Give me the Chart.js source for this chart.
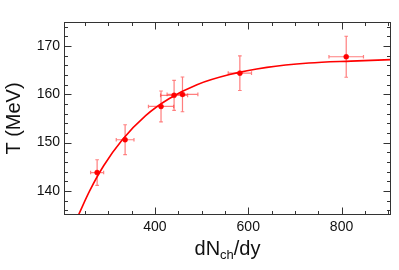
<!DOCTYPE html>
<html>
<head>
<meta charset="utf-8">
<script src="https://cdn.jsdelivr.net/npm/chart.js@4/dist/chart.umd.min.js"></script>
<style>
  html, body { margin: 0; padding: 0; background: #fff; }
  canvas { display: block; }
</style>
</head>
<body>
<canvas id="c" width="399" height="270"></canvas>
<script>
// ---- data ----
const dNch   = [276, 336, 413, 441, 459, 582, 810];
const Tvals  = [143.8, 150.6, 157.5, 159.8, 160.0, 164.4, 167.8];
const dNchErr = [14, 19, 27, 29, 33, 25, 37];
const Terr   = [2.65, 3.1, 3.2, 3.1, 3.6, 3.6, 4.25];

const fitX = [236, 260, 290, 330, 380, 430, 490, 560, 640, 730, 820, 906];
const fitT = [135.0, 140.0, 145.2, 150.6, 155.6, 159.1, 162.0, 164.1, 165.6, 166.5, 166.9, 167.2];

const xLabelTicks = [400, 600, 800];
const yLabelTicks = [140, 150, 160, 170];
const xRange = [205, 906];
const yRange = [135, 175];

const FONT = "'Liberation Sans', Arial, Helvetica, sans-serif";

const errorBars = {
  id: 'errorBars',
  beforeDatasetsDraw(chart) {
    const ctx = chart.ctx, xs = chart.scales.x, ys = chart.scales.y;
    ctx.save();
    ctx.strokeStyle = 'rgba(255,40,40,0.6)';
    ctx.lineWidth = 1.2;
    const cap = 1.8;
    dNch.forEach((x, i) => {
      const px = xs.getPixelForValue(x), py = ys.getPixelForValue(Tvals[i]);
      const xl = xs.getPixelForValue(x - dNchErr[i]), xr = xs.getPixelForValue(x + dNchErr[i]);
      const yt = ys.getPixelForValue(Tvals[i] + Terr[i]), yb = ys.getPixelForValue(Tvals[i] - Terr[i]);
      ctx.beginPath();
      ctx.moveTo(xl, py); ctx.lineTo(xr, py);
      ctx.moveTo(xl, py - cap); ctx.lineTo(xl, py + cap);
      ctx.moveTo(xr, py - cap); ctx.lineTo(xr, py + cap);
      ctx.moveTo(px, yt); ctx.lineTo(px, yb);
      ctx.moveTo(px - cap, yt); ctx.lineTo(px + cap, yt);
      ctx.moveTo(px - cap, yb); ctx.lineTo(px + cap, yb);
      ctx.stroke();
    });
    ctx.restore();
  }
};

const frame = {
  id: 'frame',
  afterDatasetsDraw(chart) {
    const ctx = chart.ctx, a = chart.chartArea, xs = chart.scales.x, ys = chart.scales.y;
    ctx.save();
    ctx.strokeStyle = '#333';
    ctx.lineWidth = 1;
    const L = Math.round(a.left) + 0.5, R = Math.round(a.right) - 0.5;
    const T = Math.round(a.top) + 0.5, B = Math.round(a.bottom) - 0.5;
    ctx.strokeRect(L, T, R - L, B - T);
    ctx.beginPath();
    for (let v = 250; v <= xRange[1]; v += 50) {
      const p = Math.round(xs.getPixelForValue(v)) + 0.5;
      const len = (v % 200 === 0) ? 7 : 3.5;
      ctx.moveTo(p, B); ctx.lineTo(p, B - len);
      ctx.moveTo(p, T); ctx.lineTo(p, T + len);
    }
    for (let v = 136; v <= yRange[1]; v += 2) {
      const p = Math.round(ys.getPixelForValue(v)) + 0.5;
      const len = (v % 10 === 0) ? 7 : 3.5;
      ctx.moveTo(L, p); ctx.lineTo(L + len, p);
      ctx.moveTo(R, p); ctx.lineTo(R - len, p);
    }
    ctx.stroke();

    // x-axis title with subscript
    ctx.fillStyle = '#111';
    ctx.textBaseline = 'alphabetic';
    ctx.textAlign = 'left';
    const big = '20px ' + FONT, small = '13px ' + FONT;
    ctx.font = big; const w1 = ctx.measureText('dN').width;
    ctx.font = small; const w2 = ctx.measureText('ch').width;
    ctx.font = big; const w3 = ctx.measureText('/dy').width;
    const total = w1 + w2 + w3;
    let x0 = (a.left + a.right) / 2 - total / 2;
    const base = 255;
    ctx.font = big; ctx.fillText('dN', x0, base); x0 += w1;
    ctx.font = small; ctx.fillText('ch', x0, base + 4); x0 += w2;
    ctx.font = big; ctx.fillText('/dy', x0, base);
    ctx.restore();
  }
};

new Chart(document.getElementById('c'), {
  type: 'scatter',
  data: {
    datasets: [
      {
        data: dNch.map((x, i) => ({ x, y: Tvals[i] })),
        backgroundColor: '#ff0000',
        borderColor: '#ff0000',
        pointRadius: 2.5,
        pointHoverRadius: 2.5,
        borderWidth: 0.5,
        showLine: false,
        order: 0
      },
      {
        data: fitX.map((x, i) => ({ x, y: fitT[i] })),
        showLine: true,
        borderColor: '#ff0000',
        borderWidth: 1.6,
        pointRadius: 0,
        cubicInterpolationMode: 'monotone',
        fill: false,
        order: 1
      }
    ]
  },
  options: {
    responsive: false,
    animation: false,
    layout: { padding: { top: 22, right: 8, left: 0, bottom: 0 } },
    plugins: { legend: { display: false }, tooltip: { enabled: false } },
    scales: {
      x: {
        type: 'linear',
        min: xRange[0], max: xRange[1],
        afterBuildTicks: s => { s.ticks = xLabelTicks.map(v => ({ value: v })); },
        afterFit: s => { s.height = 55; },
        grid: { display: false, drawTicks: false },
        border: { display: false },
        ticks: { padding: 4, color: '#111', font: { family: FONT, size: 14 } }
      },
      y: {
        type: 'linear',
        min: yRange[0], max: yRange[1],
        afterBuildTicks: s => { s.ticks = yLabelTicks.map(v => ({ value: v })); },
        afterFit: s => { s.width = 64; },
        grid: { display: false, drawTicks: false },
        border: { display: false },
        ticks: { padding: 4, color: '#111', font: { family: FONT, size: 14 } },
        title: { display: true, text: 'T (MeV)', color: '#111', padding: { top: 2, bottom: 0 }, font: { family: FONT, size: 20 } }
      }
    }
  },
  plugins: [errorBars, frame]
});
</script>
</body>
</html>
